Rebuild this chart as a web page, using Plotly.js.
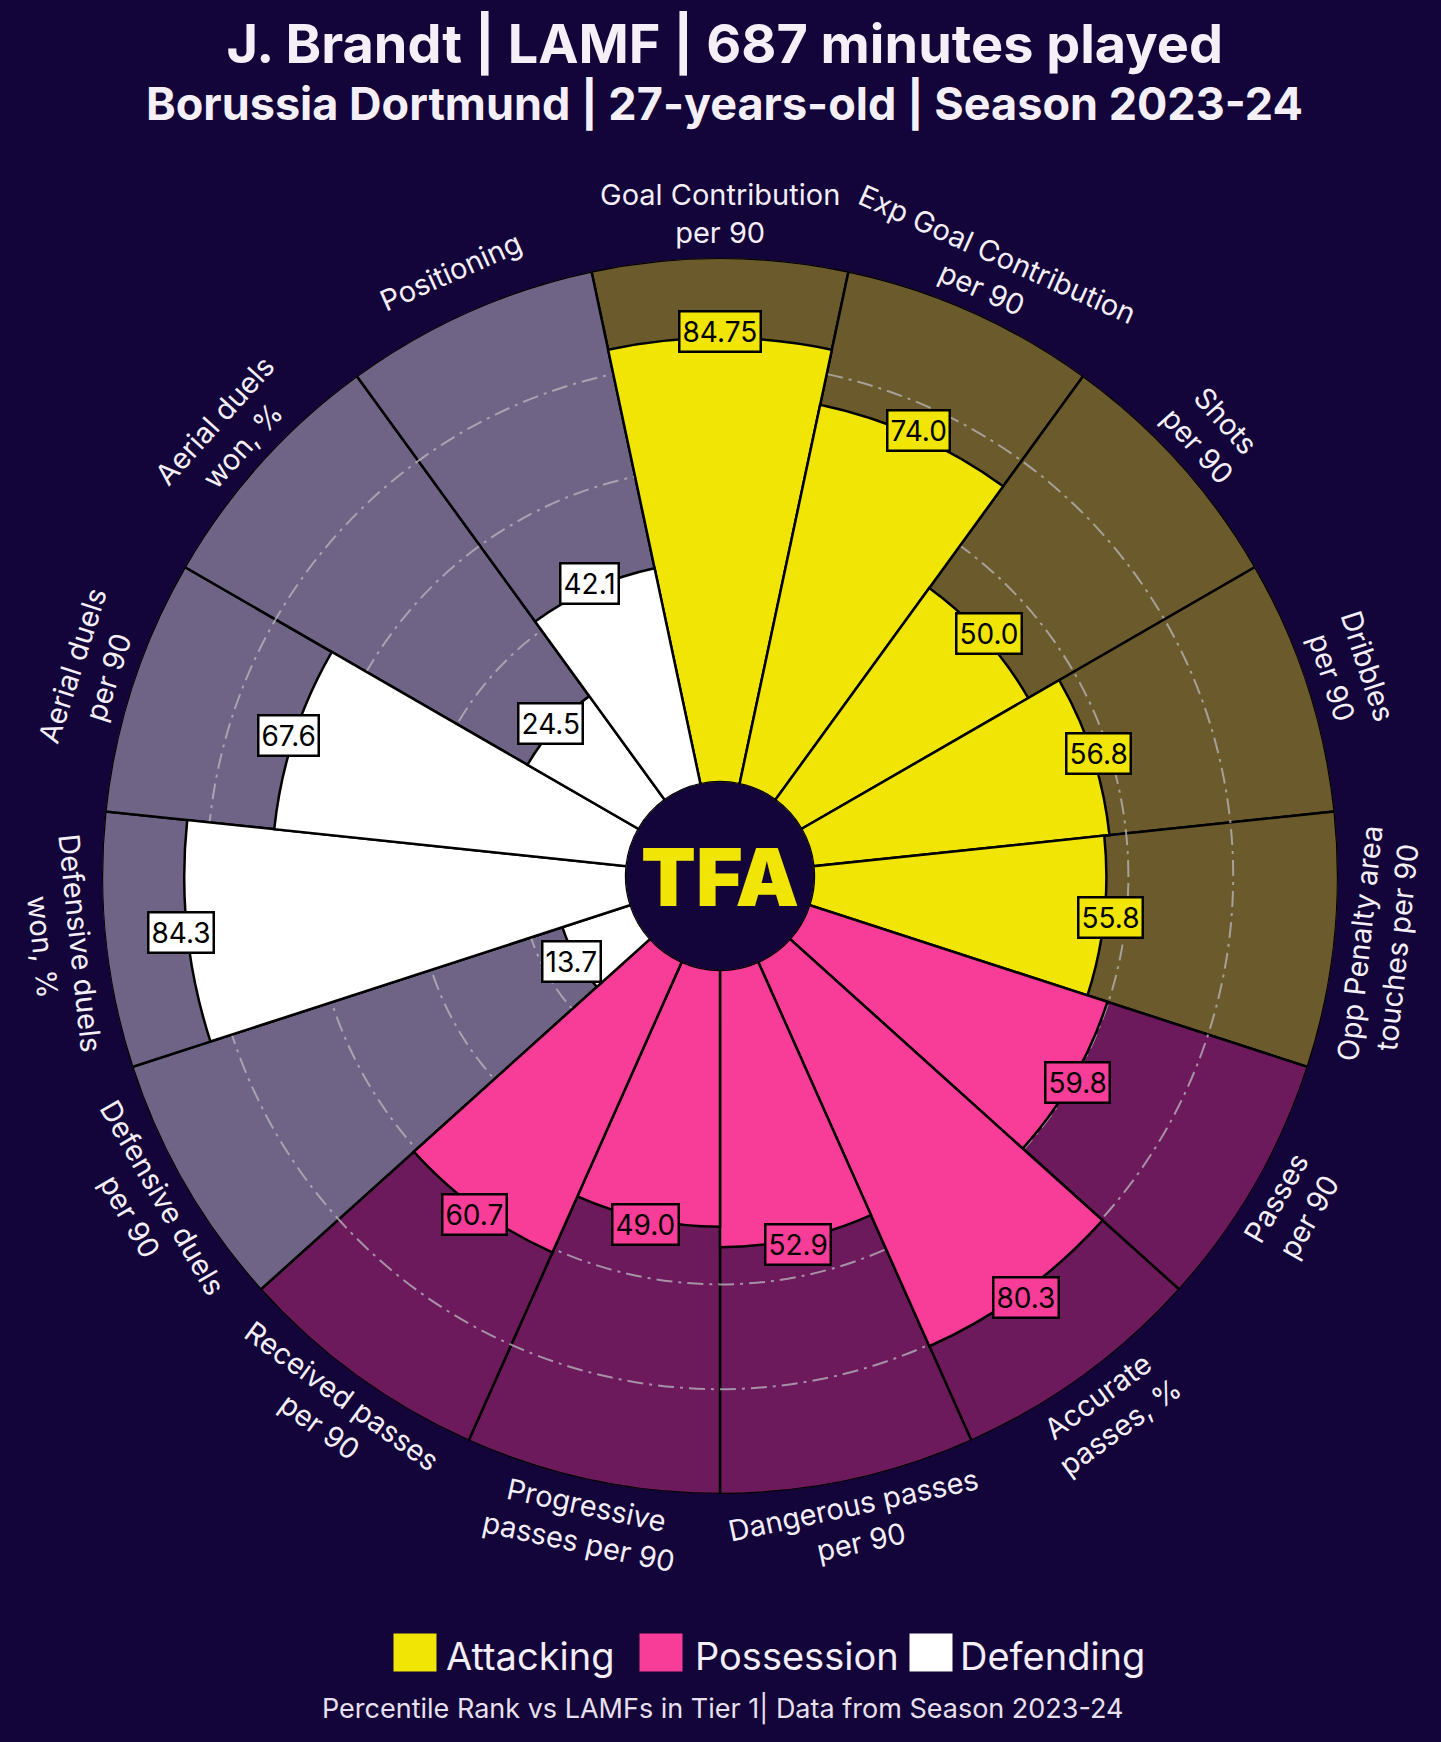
<!DOCTYPE html>
<html><head><meta charset="utf-8">
<script src="https://cdn.plot.ly/plotly-3.0.1.min.js"></script>
<style>html,body{margin:0;padding:0;background:#130439;}</style>
</head><body>
<div id="chart" style="width:1441px;height:1742px;"></div>
<script>
// ---------- data ----------
const categories = ["Goal Contribution per 90", "Exp Goal Contribution per 90", "Shots per 90", "Dribbles per 90",
  "Opp Penalty area touches per 90", "Passes per 90", "Accurate passes, %", "Dangerous passes per 90",
  "Progressive passes per 90", "Received passes per 90", "Defensive duels per 90", "Defensive duels won, %",
  "Aerial duels per 90", "Aerial duels won, %", "Positioning"];
const axisLabels = ["Goal Contribution<br>per 90", "Exp Goal Contribution<br>per 90", "Shots<br>per 90", "Dribbles<br>per 90",
  "Opp Penalty area<br>touches per 90", "Passes<br>per 90", "Accurate<br>passes, %", "Dangerous passes<br>per 90",
  "Progressive<br>passes per 90", "Received passes<br>per 90", "Defensive duels<br>per 90", "Defensive duels<br>won, %",
  "Aerial duels<br>per 90", "Aerial duels<br>won, %", "Positioning"];
const values = [84.75, 74.0, 50.0, 56.8, 55.8, 59.8, 80.3, 52.9, 49.0, 60.7, 13.7, 84.3, 67.6, 24.5, 42.1];
const groups = ["Attacking","Attacking","Attacking","Attacking","Attacking",
  "Possession","Possession","Possession","Possession","Possession",
  "Defending","Defending","Defending","Defending","Defending"];
const groupNames = ["Attacking", "Possession", "Defending"];
const fullRange = [100,100,100,100,100,100,100,100,100,100,100,100,100,100,100];
const gridValues = [20, 40, 60, 80];

// ---------- styles ----------
const barColor = {Attacking: "#f0e504", Possession: "#f73d97", Defending: "#ffffff"};
const bgColor = {Attacking: "#6b5a2b", Possession: "#6c1a5b", Defending: "#6f6485"};
const PAGE = "#130439";
const FONT = "Inter, 'Open Sans', sans-serif";

const W = 1441, H = 1742;
const CX = 720, CY = 876, R = 618, HOLE = 0.152;
const domain = {x: [(CX - R) / W, (CX + R) / W], y: [(H - CY - R) / H, (H - CY + R) / H]};

function toPaper(thetaDeg, rpx) {
  const t = thetaDeg * Math.PI / 180;
  return {x: (CX + rpx * Math.sin(t)) / W, y: (H - CY + rpx * Math.cos(t)) / H};
}
function valueToPx(v) { return HOLE * R + (1 - HOLE) * R * v / 100; }
function fmt(v) {
  const ten = v * 10;
  return Math.abs(ten - Math.round(ten)) > 1e-6 ? v.toFixed(2) : v.toFixed(1);
}

const step = 360 / categories.length;

const angular = {
  rotation: 90, direction: "clockwise", type: "category",
  categoryorder: "array", categoryarray: categories,
  showgrid: false, showline: false, showticklabels: false, ticks: ""
};

const traces = [
  {
    type: "barpolar", subplot: "polar", theta: categories, r: fullRange,
    marker: {color: groups.map(g => bgColor[g]), line: {color: "#000000", width: 2.5}},
    hoverinfo: "skip", showlegend: false
  },
  {
    type: "barpolar", subplot: "polar2", theta: categories, r: values,
    marker: {color: groups.map(g => barColor[g]), line: {color: "#000000", width: 2.5}},
    hovertemplate: "%{theta}: %{r}<extra></extra>", showlegend: false
  }
];

const annotations = [];

// value labels
values.forEach((v, i) => {
  const p = toPaper(i * step, valueToPx(v) + 6);
  annotations.push({
    xref: "paper", yref: "paper", x: p.x, y: p.y, xanchor: "center", yanchor: "middle",
    text: fmt(v), showarrow: false,
    font: {family: FONT, size: 28, color: "#000000"},
    bgcolor: barColor[groups[i]], bordercolor: "#000000", borderwidth: 2.5, borderpad: 2
  });
});

// category labels
axisLabels.forEach((lab, i) => {
  const th = i * step;
  let ang = th;
  if (th > 90 && th < 270) ang = th - 180;
  else if (th >= 270) ang = th - 360;
  const p = toPaper(th, 662);
  annotations.push({
    xref: "paper", yref: "paper", x: p.x, y: p.y, xanchor: "center", yanchor: "middle",
    text: lab, showarrow: false, textangle: ang, align: "center",
    font: {family: FONT, size: 29, color: "#f3eef7"}
  });
});

// centre logo
annotations.push({
  xref: "paper", yref: "paper", x: CX / W, y: (H - CY) / H, xanchor: "center", yanchor: "middle",
  text: "TFA", showarrow: false,
  font: {family: FONT, size: 80, color: barColor.Attacking, weight: 900}
});

// subtitle
annotations.push({
  xref: "paper", yref: "paper", x: 0.503, y: 1 - 104 / H, xanchor: "center", yanchor: "middle",
  text: "<b>Borussia Dortmund | 27-years-old | Season 2023-24</b>", showarrow: false,
  font: {family: FONT, size: 45, color: "#f5f0f7"}
});

// legend
const legendBox = [415, 661, 931];
const legendText = [444, 693, 958];
groupNames.forEach((g, i) => {
  annotations.push({
    xref: "paper", yref: "paper", x: legendBox[i] / W, y: 1 - 1652 / H, xanchor: "center", yanchor: "middle",
    text: " ", showarrow: false, width: 42, height: 37, bgcolor: barColor[g], borderpad: 0,
    font: {size: 10, color: barColor[g]}
  });
  annotations.push({
    xref: "paper", yref: "paper", x: legendText[i] / W, y: 1 - 1656 / H, xanchor: "left", yanchor: "middle",
    text: g, showarrow: false,
    font: {family: FONT, size: 38, color: "#f3eef7"}
  });
});

// footnote
annotations.push({
  xref: "paper", yref: "paper", x: 723 / W, y: 1 - 1708 / H, xanchor: "center", yanchor: "middle",
  text: "Percentile Rank vs LAMFs in Tier 1| Data from Season 2023-24", showarrow: false,
  font: {family: FONT, size: 27, color: "#e8e0ee"}
});

const layout = {
  width: W, height: H, margin: {l: 0, r: 0, t: 0, b: 0},
  paper_bgcolor: PAGE, plot_bgcolor: PAGE, showlegend: false,
  title: {
    text: "<b>J. Brandt | LAMF | 687 minutes played</b>",
    x: 0.503, xanchor: "center", y: 1 - 44 / H, yanchor: "middle",
    font: {family: FONT, size: 54, color: "#f5f0f7"}
  },
  polar: {
    domain: domain, hole: HOLE, bgcolor: "rgba(0,0,0,0)", bargap: 0,
    radialaxis: {visible: false, range: [0, 100], showgrid: false},
    angularaxis: angular
  },
  polar2: {
    domain: domain, hole: HOLE, bgcolor: "rgba(0,0,0,0)", bargap: 0,
    radialaxis: {
      visible: true, range: [0, 100], tickvals: gridValues, showticklabels: false, ticks: "",
      showline: false, showgrid: true, gridcolor: "rgba(185,185,190,0.75)", gridwidth: 2,
      griddash: "16px,6px,3px,6px"
    },
    angularaxis: angular
  },
  annotations: annotations
};

Plotly.newPlot("chart", traces, layout, {displayModeBar: false, staticPlot: true});
</script>
</body></html>
